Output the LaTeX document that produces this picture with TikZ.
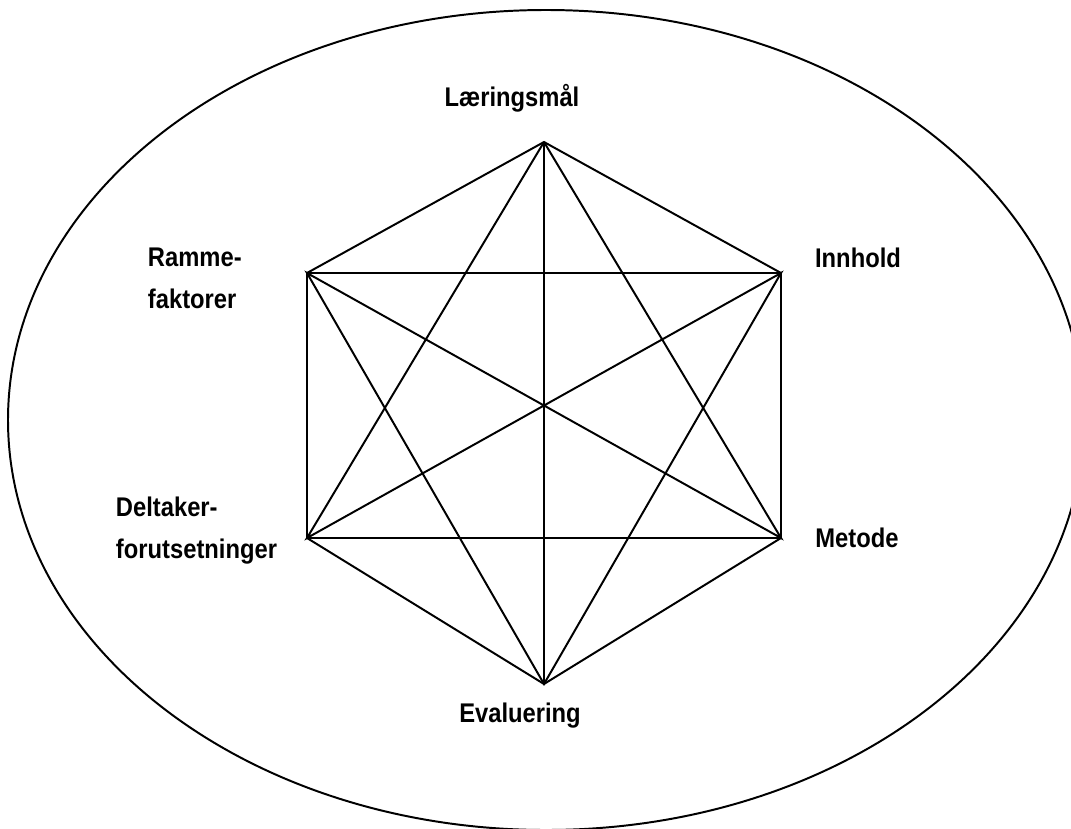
\documentclass[tikz,border=0pt]{standalone}
\usepackage{fontspec}
\setmainfont[FakeStretch=0.88]{Liberation Sans}

\begin{document}
\begin{tikzpicture}[x=0.025cm,y=-0.025cm,line width=1.4pt,
every node/.style={font=\bfseries\fontsize{19.2}{29.5}\selectfont,inner sep=0pt}]
\useasboundingbox (0,0) rectangle (1071,828);
\draw (546,420) ellipse [x radius=538,y radius=410];
% corners of the hexagon
\coordinate (L) at (544,142);
\coordinate (I) at (781,273);
\coordinate (M) at (781,538);
\coordinate (E) at (544,684);
\coordinate (D) at (307,538);
\coordinate (R) at (307,273);
% labels
\node[anchor=base] (tL) at (512,106) {Læringsmål};
\node[anchor=base] (tI) at (858,267) {Innhold};
\node[anchor=base] (tM) at (857,547) {Metode};
\node[anchor=base] (tE) at (520,722) {Evaluering};
\node[anchor=west,align=left] (tR) at (147,278.5) {Ramme-\\faktorer};
\node[anchor=west,align=left] (tD) at (115,530.5) {Deltaker-\\forutsetninger};
\draw (L)--(I)--(M)--(E)--(D)--(R)--cycle;
\draw (L)--(E);
\draw (R)--(I);
\draw (D)--(M);
\draw (L)--(D)--(I)--(E)--(R)--(M)--(L);
\end{tikzpicture}
\end{document}
